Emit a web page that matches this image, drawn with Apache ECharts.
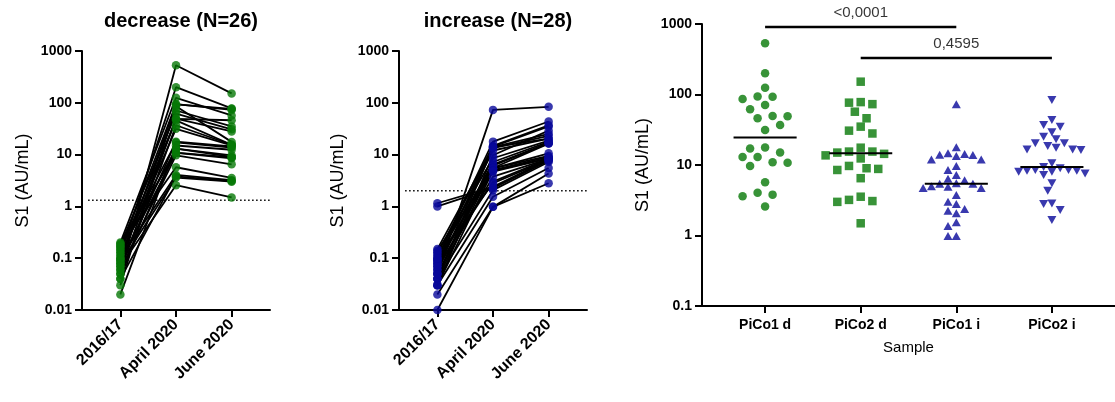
<!DOCTYPE html>
<html>
<head>
<meta charset="utf-8">
<script src="https://cdn.jsdelivr.net/npm/echarts@6/dist/echarts.min.js"></script>
<style>
  html, body { margin: 0; padding: 0; background: #fff; }
  #chart { width: 1115px; height: 402px; }
</style>
</head>
<body>
<div id="chart"></div>
<script>
// ---- data -------------------------------------------------------------
const timepoints = ['2016/17', 'April 2020', 'June 2020'];

// "decrease" group: one entry per subject, same order in every array
const decBaseline = [0.05, 0.12, 0.2, 0.08, 0.15, 0.03, 0.1, 0.18, 0.06, 0.09, 0.14, 0.04, 0.11,
                     0.07, 0.16, 0.02, 0.13, 0.05, 0.19, 0.09, 0.06, 0.17, 0.1, 0.04, 0.08, 0.07];
const decApril    = [532, 200, 125, 94, 93, 86, 71, 62, 49.6, 49, 45.9, 36.9, 31.4,
                     17.7, 17.2, 15, 13, 13, 10.9, 10.8, 9.7, 5.7, 4.05, 3.8, 3.6, 2.57];
const decJune     = [152, 78, 57, 73, 76.6, 17.6, 35, 30.7, 28, 46, 15.5, 15.5, 15,
                     14.4, 13.7, 12.4, 9.7, 9.0, 8.8, 8.5, 6.5, 3.55, 3.2, 3.08, 3.0, 1.49];

// "increase" group
const incBaseline = [0.05, 0.1, 0.08, 0.12, 0.04, 0.15, 0.06, 0.09, 0.03, 0.13, 0.07, 0.05, 0.11, 0.04,
                     0.08, 0.06, 0.14, 0.03, 0.09, 0.05, 0.07, 0.1, 1.15, 1.0, 0.04, 0.03, 0.02, 0.01];
const incApril    = [73, 17.8, 14.7, 14.3, 14.0, 13.9, 13.4, 12.0, 9.7, 8.5, 7.2, 6.4, 6.1, 5.5,
                     5.4, 5.4, 5.0, 4.9, 4.7, 3.75, 3.0, 2.8, 2.38, 2.25, 2.06, 1.54, 0.98, 0.98];
const incJune     = [83.6, 43.5, 36.9, 35, 20.3, 25.2, 23.1, 20.3, 29.1, 18.6, 17.6, 16.6, 16.6, 16.3,
                     10.6, 9.4, 9.0, 8.5, 8.5, 8.3, 8.3, 8.0, 8.0, 7.6, 7.2, 5.5, 4.3, 2.8];

// positivity cut-offs (dotted lines)
const decCutoff = 1.32;
const incCutoff = 2.0;

// right panel: S1 titres per sample
const sampleNames = ['PiCo1 d', 'PiCo2 d', 'PiCo1 i', 'PiCo2 i'];
const pico1d = decApril;
const pico2d = decJune;
const pico1i = [73, 17.8, 14.7, 14.3, 14.0, 13.9, 13.4, 12.0, 12.0, 9.7, 8.5, 7.2, 6.4, 6.1, 5.5, 5.4,
                5.4, 5.0, 4.9, 4.7, 4.7, 3.75, 3.0, 2.8, 2.38, 2.25, 2.06, 1.54, 1.36, 0.98, 0.98];
const pico2i = [83.6, 43.5, 36.9, 35, 29.1, 25.2, 23.1, 20.3, 20.3, 18.6, 17.6, 16.6, 16.6, 16.3, 10.6, 9.4,
                9.0, 8.5, 8.5, 8.3, 8.3, 8.0, 8.0, 7.6, 7.2, 5.5, 4.3, 2.85, 2.8, 2.3, 1.66];

// pairwise comparisons: sample indices and p-value text
const comparisonFrom  = [0, 1];
const comparisonTo    = [2, 3];
const comparisonPText = ['<0,0001', '0,4595'];

// ---- styling ----------------------------------------------------------
const FONT = "'Liberation Sans', Arial, Helvetica, sans-serif";
const GREEN = '#067806';
const BLUE = '#08089a';
const BLACK = '#000';
const sigBarLevels = [906, 330];   // heights of the comparison bars (axis units)

function logLabel(v) {
  const e = Math.round(Math.log10(v));
  return e >= 0 ? String(Math.pow(10, e)) : Math.pow(10, e).toFixed(-e);
}
function median(arr) {
  const s = arr.slice().sort((a, b) => a - b);
  const n = s.length;
  return n % 2 ? s[(n - 1) / 2] : (s[n / 2 - 1] + s[n / 2]) / 2;
}

const axisLine = { show: true, onZero: false, lineStyle: { color: BLACK, width: 2 } };
const axisTick = { show: true, length: 7, lineStyle: { color: BLACK, width: 2 } };

function pairedX(gridIndex) {
  return {
    type: 'value', gridIndex, min: -0.69, max: 2.69,
    axisLine, splitLine: { show: false },
    axisTick: Object.assign({ customValues: [0, 1, 2] }, axisTick),
    axisLabel: {
      customValues: [0, 1, 2], formatter: v => timepoints[Math.round(v)] || '',
      rotate: 45, margin: 12, color: BLACK, fontWeight: 'bold', fontSize: 16, fontFamily: FONT
    }
  };
}
function logY(gridIndex, min, nameGap) {
  return {
    type: 'log', logBase: 10, gridIndex, min, max: 1000,
    axisLine, axisTick, splitLine: { show: false }, minorTick: { show: false },
    axisLabel: { formatter: logLabel, margin: 10, color: BLACK, fontWeight: 'bold', fontSize: 14, fontFamily: FONT },
    name: 'S1 (AU/mL)', nameLocation: 'middle', nameGap,
    nameTextStyle: { color: BLACK, fontSize: 18, fontFamily: FONT }
  };
}

const series = [];

function addPaired(axisIndex, base, apr, jun, color, cutoff) {
  series.push({
    type: 'line', xAxisIndex: axisIndex, yAxisIndex: axisIndex, silent: true, z: 1,
    data: [[-0.58, cutoff], [2.69, cutoff]], symbol: 'none',
    lineStyle: { color: BLACK, width: 1.5, type: [1.5, 2.5] }
  });
  const pts = [];
  for (let i = 0; i < base.length; i++) {
    series.push({
      type: 'line', xAxisIndex: axisIndex, yAxisIndex: axisIndex, silent: true, z: 2,
      data: [[0, base[i]], [1, apr[i]], [2, jun[i]]], symbol: 'none',
      lineStyle: { color: BLACK, width: 1.8 }
    });
    pts.push([0, base[i]], [1, apr[i]], [2, jun[i]]);
  }
  series.push({
    type: 'scatter', xAxisIndex: axisIndex, yAxisIndex: axisIndex, silent: true, z: 3,
    data: pts, symbol: 'circle', symbolSize: 8.5, itemStyle: { color }
  });
}
addPaired(0, decBaseline, decApril, decJune, GREEN, decCutoff);
addPaired(1, incBaseline, incApril, incJune, BLUE, incCutoff);

// right panel groups
const groups = [
  { values: pico1d, color: GREEN, symbol: 'circle',   size: 8.5,    rotate: 0,   step: 7.5,  minDist: 11 },
  { values: pico2d, color: GREEN, symbol: 'rect',     size: 8.5,    rotate: 0,   step: 5.85, minDist: 10 },
  { values: pico1i, color: BLUE,  symbol: 'triangle', size: [9, 8], rotate: 0,   step: 4.15, minDist: 8 },
  { values: pico2i, color: BLUE,  symbol: 'triangle', size: [9, 8], rotate: 180, step: 4.15, minDist: 8 }
];
const groupSeriesStart = series.length;
groups.forEach((g, gi) => {
  series.push({
    type: 'scatter', xAxisIndex: 2, yAxisIndex: 2, silent: true, z: 3,
    data: g.values.map(v => [gi, v]),
    symbol: g.symbol, symbolSize: g.size, symbolRotate: g.rotate, itemStyle: { color: g.color }
  });
});
groups.forEach((g, gi) => {
  const m = median(g.values);
  series.push({
    type: 'line', xAxisIndex: 2, yAxisIndex: 2, silent: true, z: 5, symbol: 'none',
    data: [[gi - 0.33, m], [gi + 0.33, m]], lineStyle: { color: BLACK, width: 2 }
  });
});
comparisonFrom.forEach((from, ci) => {
  const to = comparisonTo[ci];
  const lvl = sigBarLevels[ci];
  series.push({
    type: 'line', xAxisIndex: 2, yAxisIndex: 2, silent: true, z: 5, symbol: 'none',
    data: [[from, lvl], [to, lvl]], lineStyle: { color: BLACK, width: 2.5 }
  });
  series.push({
    type: 'scatter', xAxisIndex: 2, yAxisIndex: 2, silent: true, z: 5,
    data: [[(from + to) / 2, lvl]], symbolSize: 1, itemStyle: { color: 'rgba(0,0,0,0)' },
    label: {
      show: true, position: 'top', distance: 6, formatter: comparisonPText[ci],
      color: BLACK, fontSize: 15, fontFamily: FONT
    }
  });
});

const option = {
  animation: false,
  textStyle: { fontFamily: FONT },
  title: [
    { text: 'decrease (N=26)', left: 176, top: 6, textAlign: 'center',
      textStyle: { fontSize: 20, fontWeight: 'bold', color: BLACK, fontFamily: FONT } },
    { text: 'increase (N=28)', left: 493, top: 6, textAlign: 'center',
      textStyle: { fontSize: 20, fontWeight: 'bold', color: BLACK, fontFamily: FONT } }
  ],
  grid: [
    { left: 82, top: 51, width: 188, height: 259 },
    { left: 399, top: 51, width: 188, height: 259 },
    { left: 702, top: 24, width: 425, height: 282 }
  ],
  xAxis: [
    pairedX(0),
    pairedX(1),
    {
      type: 'value', gridIndex: 2, min: -0.66, max: 3.66,
      axisLine, splitLine: { show: false },
      axisTick: Object.assign({ customValues: [0, 1, 2, 3] }, axisTick),
      axisLabel: {
        customValues: [0, 1, 2, 3], formatter: v => sampleNames[Math.round(v)] || '',
        margin: 12, color: BLACK, fontWeight: 'bold', fontSize: 14, fontFamily: FONT
      },
      name: 'Sample', nameLocation: 'middle', nameGap: 34,
      nameTextStyle: { color: BLACK, fontSize: 15, fontFamily: FONT }
    }
  ],
  yAxis: [
    logY(0, 0.01, 50),
    logY(1, 0.01, 52),
    logY(2, 0.1, 50)
  ],
  series
};

const chart = echarts.init(document.getElementById('chart'), null, { renderer: 'canvas' });
chart.setOption(option);

// spread each sample's points sideways so that symbols do not overlap (beeswarm)
function swarm(g, gi) {
  const finder = { xAxisIndex: 2, yAxisIndex: 2 };
  const x0 = chart.convertToPixel(finder, [gi, 1])[0];
  const unit = chart.convertToPixel(finder, [gi + 1, 1])[0] - x0;
  const offsets = [0];
  for (let k = 1; k < 16; k++) offsets.push(-k * g.step, k * g.step);
  const order = g.values.map((v, i) => i).sort((a, b) => g.values[b] - g.values[a]);
  const placed = [];
  const out = new Array(g.values.length);
  order.forEach(idx => {
    const py = chart.convertToPixel(finder, [gi, g.values[idx]])[1];
    for (const off of offsets) {
      if (placed.every(p => Math.hypot(p.x - off, p.y - py) >= g.minDist)) {
        placed.push({ x: off, y: py });
        out[idx] = [gi + off / unit, g.values[idx]];
        break;
      }
    }
  });
  return out;
}
const newSeries = series.map(() => ({}));
groups.forEach((g, gi) => { newSeries[groupSeriesStart + gi] = { data: swarm(g, gi) }; });
chart.setOption({ series: newSeries });
</script>
</body>
</html>
